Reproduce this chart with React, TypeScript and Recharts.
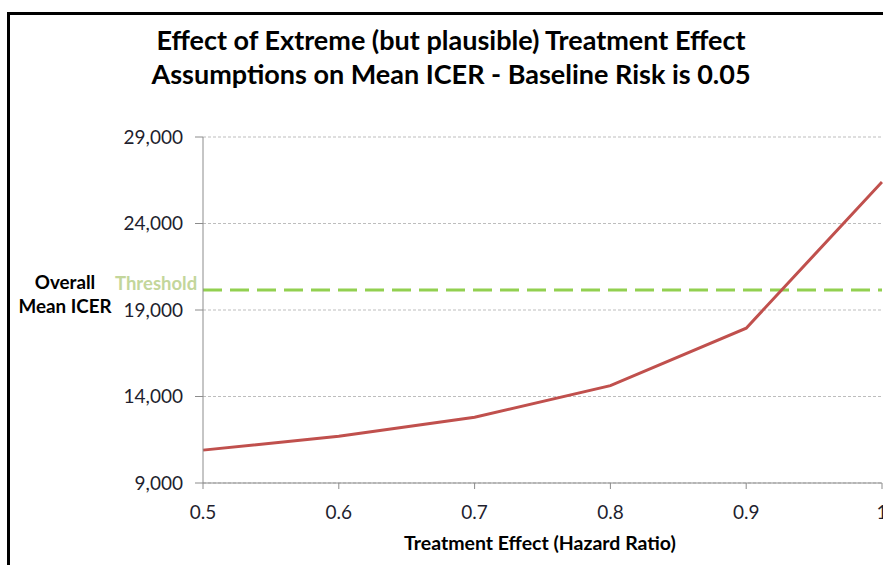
import { CartesianGrid, Line, LineChart, ReferenceLine, XAxis, YAxis } from 'recharts'

const hazardRatios = [0.5, 0.6, 0.7, 0.8, 0.9, 1]
const meanIcer = [10900, 11700, 12800, 14630, 17950, 26400]
const threshold = 20150
const yTicks = [9000, 14000, 19000, 24000, 29000]
const xTicks = [0.5, 0.6, 0.7, 0.8, 0.9, 1]
const titleLines = [
  'Effect of Extreme (but plausible) Treatment Effect',
  'Assumptions on Mean ICER - Baseline Risk is 0.05',
]

const data = hazardRatios.map((hr, i) => ({ hr, icer: meanIcer[i] }))

const font = 'Lato, "Open Sans", sans-serif'
const tickStyle = { fill: '#1f1f2f', fontSize: 19, fontFamily: font }

export default function App() {
  return (
    <div
      style={{
        position: 'fixed',
        left: 0,
        top: 0,
        width: 883,
        height: 565,
        overflow: 'hidden',
        background: '#fff',
        fontFamily: font,
      }}
    >
      <div
        style={{
          position: 'absolute',
          left: 7,
          top: 12,
          width: 950,
          height: 700,
          border: '3px solid #000',
        }}
      />
      <div style={{ position: 'absolute', left: 0, top: 23, width: 902, textAlign: 'center' }}>
        {titleLines.map((t) => (
          <div key={t} style={{ fontSize: 27, fontWeight: 700, lineHeight: '34px', color: '#000' }}>
            {t}
          </div>
        ))}
      </div>
      <div
        style={{
          position: 'absolute',
          left: 10,
          top: 270,
          width: 110,
          textAlign: 'center',
          fontSize: 18.8,
          fontWeight: 700,
          lineHeight: '24px',
          color: '#000',
        }}
      >
        Overall
        <br />
        Mean ICER
      </div>
      <div
        style={{
          position: 'absolute',
          left: 115,
          top: 272,
          fontSize: 18.5,
          fontWeight: 700,
          color: '#c3d69b',
        }}
      >
        Threshold
      </div>
      <div
        style={{
          position: 'absolute',
          left: 404,
          top: 531,
          fontSize: 19.5,
          fontWeight: 700,
          color: '#000',
        }}
      >
        Treatment Effect (Hazard Ratio)
      </div>
      <div style={{ position: 'absolute', left: 0, top: 0 }}>
        <LineChart width={940} height={565} data={data} margin={{ top: 137, right: 58, bottom: 0, left: 0 }}>
          <CartesianGrid vertical={false} stroke="#bdbdbd" strokeDasharray="3 2" />
          <XAxis
            dataKey="hr"
            type="number"
            domain={[0.5, 1]}
            ticks={xTicks}
            height={82}
            stroke="#8c8c8c"
            tickSize={6}
            tickMargin={17}
            tick={tickStyle}
            interval={0}
          />
          <YAxis
            type="number"
            domain={[9000, 29000]}
            ticks={yTicks}
            width={203}
            stroke="#8c8c8c"
            tickSize={8}
            tickMargin={12}
            tick={tickStyle}
            interval={0}
            tickFormatter={(v: number) => v.toLocaleString('en-US')}
          />
          <ReferenceLine y={threshold} stroke="#92d050" strokeWidth={3} strokeDasharray="19 8" ifOverflow="extendDomain" />
          <Line
            dataKey="icer"
            stroke="#c0504d"
            strokeWidth={3}
            dot={false}
            isAnimationActive={false}
          />
        </LineChart>
      </div>
    </div>
  )
}
